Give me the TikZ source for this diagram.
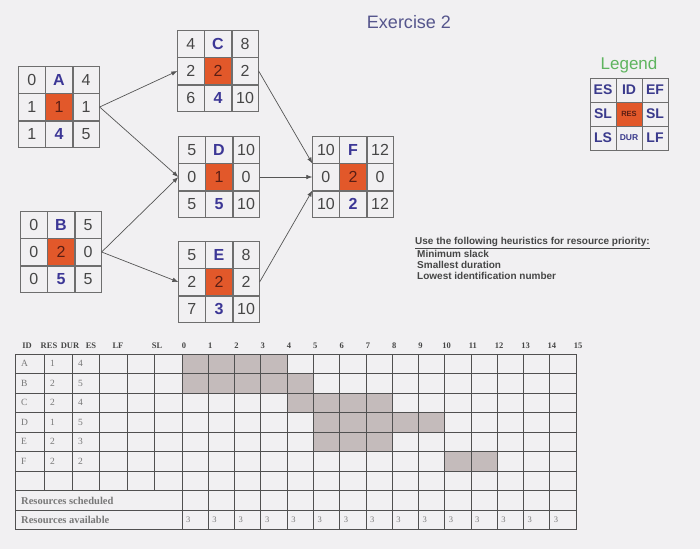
\documentclass[tikz,border=0pt]{standalone}
\usepackage{fontspec}
\setmainfont{Liberation Serif}
\setsansfont{Liberation Sans}
\usetikzlibrary{positioning,arrows.meta}

\definecolor{bg}{RGB}{241,240,242}
\definecolor{netline}{RGB}{110,110,110}
\definecolor{numtext}{RGB}{70,70,70}
\definecolor{idblue}{RGB}{60,55,150}
\definecolor{resorange}{RGB}{226,88,42}
\definecolor{restext}{RGB}{90,30,20}
\definecolor{linkgray}{RGB}{85,85,85}
\definecolor{legblue}{RGB}{58,58,140}
\definecolor{leggreen}{RGB}{95,180,95}
\definecolor{titleblue}{RGB}{85,85,140}
\definecolor{tabline}{RGB}{80,80,80}
\definecolor{tabtext}{RGB}{120,120,120}
\definecolor{sched}{RGB}{196,187,187}

\newcommand\netfont{\sffamily\fontsize{16}{18}\selectfont}
\newcommand\legfont{\sffamily\bfseries\fontsize{14}{16}\selectfont}

\begin{document}
\begin{tikzpicture}[x=1pt,y=-1pt,
	cell/.style={draw=netline,line width=0.8pt,minimum width=26.3pt,minimum height=26.3pt,inner sep=0pt,font=\netfont,text=numtext},
	rescell/.style={cell,fill=resorange,text=restext},
	idcell/.style={cell,text=idblue,font=\netfont\bfseries},
	link/.style={draw=linkgray,line width=0.7pt,-{Latex[length=6pt,width=4.5pt]}},
	legcell/.style={draw=netline,line width=0.8pt,minimum width=26pt,minimum height=24pt,inner sep=0pt,font=\legfont,text=legblue},
	tline/.style={draw=tabline,line width=0.7pt},
	head/.style={font=\rmfamily\bfseries\fontsize{8.5}{10}\selectfont,text=numtext,inner sep=0pt},
	celltxt/.style={anchor=west,font=\rmfamily\fontsize{9.5}{11}\selectfont,text=tabtext,inner sep=0pt},
	restxt/.style={anchor=west,font=\rmfamily\bfseries\fontsize{10.5}{12}\selectfont,text=tabtext,inner sep=0pt},
	heur/.style={anchor=west,font=\sffamily\bfseries\fontsize{10}{11}\selectfont,text=numtext,inner sep=0pt}]

	\fill[bg] (0,0) rectangle (700,549);
	\useasboundingbox (0,0) rectangle (700,549);

	\node[font=\sffamily\fontsize{18}{20}\selectfont,text=titleblue] (title) at (409,22) {Exercise 2};

	% activity boxes
	\foreach \nm/\px/\py/\tes/\tef/\tsl/\tres/\tls/\tdur/\tlf in
		{A/59/107/0/4/1/1/1/4/5, B/61/252/0/5/0/2/0/5/5, C/218/71/4/8/2/2/6/4/10,
		 D/219/177/5/10/0/1/5/5/10, E/219/282/5/8/2/2/7/3/10, F/353/177/10/12/0/2/10/2/12}
	{
		\node[rescell] (\nm) at (\px,\py) {\tres};
		\node[cell,left=0pt of \nm] (\nm-sl1) {\tsl};
		\node[cell,right=0pt of \nm] (\nm-sl2) {\tsl};
		\node[idcell,above=0pt of \nm] (\nm-id) {\nm};
		\node[idcell,below=0pt of \nm] (\nm-dur) {\tdur};
		\node[cell,left=0pt of \nm-id] (\nm-es) {\tes};
		\node[cell,right=0pt of \nm-id] (\nm-ef) {\tef};
		\node[cell,left=0pt of \nm-dur] (\nm-ls) {\tls};
		\node[cell,right=0pt of \nm-dur] (\nm-lf) {\tlf};
	}

	\foreach \from/\to in {A-sl2.east/C-sl1.west,A-sl2.east/D-sl1.west,B-sl2.east/D-sl1.west,
		B-sl2.east/E-sl1.west,C-sl2.east/F-sl1.north west,D-sl2.east/F-sl1.west,E-sl2.east/F-sl1.south west}
		\draw[link] (\from) -- (\to);

	% legend
	\node[font=\sffamily\fontsize{17}{19}\selectfont,text=leggreen] (legend) at (629,65) {Legend};
	\foreach \lab/\lx/\ly in {ES/603/90,ID/629/90,EF/655/90,SL/603/114,SL/655/114,LS/603/138,LF/655/138}
		\node[legcell] (leg-\lx-\ly) at (\lx,\ly) {\lab};
	\node[legcell,fill=resorange,text=restext,font=\sffamily\bfseries\fontsize{7.5}{8}\selectfont] (leg-res) at (629,114) {RES};
	\node[legcell,font=\sffamily\bfseries\fontsize{8.5}{9}\selectfont] (leg-dur) at (629,138) {DUR};

	% heuristics
	\node[heur] (heur0) at (415,243) {\underline{Use the following heuristics for resource priority:}};
	\node[heur] (heur1) at (417,254) {Minimum slack};
	\node[heur] (heur2) at (417,265) {Smallest duration};
	\node[heur] (heur3) at (417,276) {Lowest identification number};

	% resource table
	\foreach \r/\s/\d in {1/0/4,2/0/5,3/4/4,4/5/5,5/5/3,6/10/2}
		\fill[sched] ({182+\s*26.27},{354+(\r-1)*19.5}) rectangle ({182+(\s+\d)*26.27},{354+\r*19.5});
	\foreach \r in {0,...,9}
		\draw[tline] (15,{354+\r*19.5}) -- (576,{354+\r*19.5});
	\draw[tline] (15,354) -- (15,529.5);
	\foreach \c in {44,72,99,127,154}
		\draw[tline] (\c,354) -- (\c,490.5);
	\foreach \k in {0,...,15} {
		\draw[tline] ({182+\k*26.27},354) -- ({182+\k*26.27},529.5);
		\node[head] (t-\k) at ({184+\k*26.27},346) {\k};
	}
	\foreach \h/\hx in {ID/27,RES/49,DUR/70,ES/91,LF/118,SL/157}
		\node[head] (h-\h) at (\hx,346) {\h};
	\foreach \id/\rres/\rdur [count=\r] in {A/1/4,B/2/5,C/2/4,D/1/5,E/2/3,F/2/2} {
		\node[celltxt] (id-\id) at (21,{354+(\r-0.5)*19.5}) {\id};
		\node[celltxt] (res-\id) at (50,{354+(\r-0.5)*19.5}) {\rres};
		\node[celltxt] (dur-\id) at (78,{354+(\r-0.5)*19.5}) {\rdur};
	}
	\node[restxt] (sched-row) at (21,500.5) {Resources scheduled};
	\node[restxt] (avail-row) at (21,520) {Resources available};
	\foreach \k in {0,...,14}
		\node[celltxt,font=\rmfamily\fontsize{8.5}{9}\selectfont] (av-\k) at ({186+\k*26.27},520) {3};
\end{tikzpicture}
\end{document}
